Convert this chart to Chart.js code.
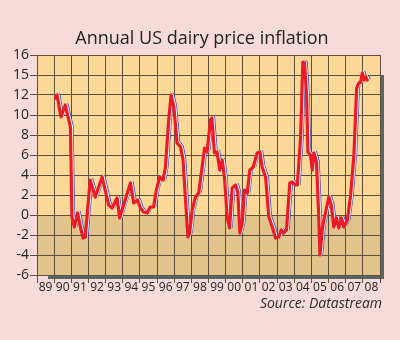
<!DOCTYPE html>
<html>
<head>
<meta charset="utf-8">
<script src="https://cdn.jsdelivr.net/npm/chart.js@4/dist/chart.umd.min.js"></script>
<style>
  html, body { margin: 0; padding: 0; background: #f7dbda; }
  #c { display: block; }
</style>
</head>
<body>
<canvas id="c" width="400" height="340"></canvas>
<script>
// Year labels shown under each yearly column
const yearLabels = ['89','90','91','92','93','94','95','96','97','98','99','00','01','02','03','04','05','06','07','08'];

// Value axis ticks and their printed labels
const yTickValues = [-6, -4, -2, 0, 2, 4, 6, 8, 10, 12, 14, 16];
const yTickLabels = ['-6', '-4', '-2', '0', '2', '4', '6', '8', '10', '12', '15', '16'];

// Observation dates (decimal years) and annual dairy price inflation, %
const dates = [
  1990.07, 1990.17, 1990.40, 1990.65, 1990.95, 1991.04, 1991.18, 1991.37, 1991.53, 1991.69,
  1991.82, 1992.10, 1992.40, 1992.80, 1993.18, 1993.38, 1993.67, 1993.82, 1994.45, 1994.64,
  1994.87, 1995.03, 1995.22, 1995.42, 1995.60, 1995.80, 1995.96, 1996.16, 1996.36, 1996.49,
  1996.68, 1996.82, 1996.98, 1997.17, 1997.37, 1997.52, 1997.66, 1997.80, 1997.90, 1998.05,
  1998.24, 1998.43, 1998.63, 1998.77, 1998.92, 1999.12, 1999.20, 1999.35, 1999.50, 1999.66,
  1999.80, 1999.93, 2000.09, 2000.23, 2000.38, 2000.58, 2000.71, 2000.83, 2000.97, 2001.10,
  2001.26, 2001.41, 2001.61, 2001.84, 2002.00, 2002.13, 2002.33, 2002.52, 2002.72, 2002.91,
  2003.10, 2003.24, 2003.39, 2003.55, 2003.74, 2003.88, 2004.08, 2004.18, 2004.37, 2004.50,
  2004.60, 2004.72, 2004.80, 2004.95, 2005.05, 2005.15, 2005.30, 2005.44, 2005.50, 2005.64,
  2005.83, 2006.02, 2006.16, 2006.31, 2006.47, 2006.60, 2006.75, 2006.90, 2007.10, 2007.29,
  2007.48, 2007.64, 2007.77, 2007.87, 2007.97, 2008.07, 2008.17, 2008.26
];
const inflation = [
  11.7, 12.0, 9.8, 11.0, 8.8, -0.2, -1.2, 0.2, -1.2, -2.3,
  -2.2, 3.5, 1.8, 3.8, 1.0, 0.7, 1.7, -0.3, 3.2, 1.2,
  1.5, 0.7, 0.3, 0.2, 0.8, 0.8, 2.5, 3.8, 3.5, 4.8,
  9.5, 12.0, 10.8, 7.2, 6.8, 5.5, 1.5, -2.2, -1.8, 0.5,
  1.8, 2.2, 4.8, 6.7, 6.3, 9.5, 9.7, 6.2, 6.3, 4.5,
  5.5, 3.8, -0.2, -1.3, 2.7, 3.0, 2.3, -1.8, -0.8, 2.5,
  2.2, 4.5, 4.8, 6.2, 6.3, 4.8, 3.8, -0.2, -1.2, -2.3,
  -2.2, -1.5, -1.8, -1.5, 3.2, 3.3, 3.0, 3.0, 7.7, 15.3,
  15.2, 12.0, 6.3, 6.0, 4.5, 6.2, 5.3, -0.7, -4.0, -1.3,
  0.3, 1.8, 1.0, -1.2, -0.3, -1.3, -0.3, -1.2, -0.5, 2.0,
  6.0, 12.7, 13.2, 13.3, 14.2, 13.5, 13.8, 13.5
];

const points = dates.map((d, i) => ({ x: d, y: inflation[i] }));

const FONT = '"Open Sans", "Noto Sans", sans-serif';
const GRID = '#5f4e3a';

// Page background, drop shadow, two-tone plot fill, title and source note
const backdrop = {
  id: 'backdrop',
  beforeDraw(chart) {
    const { ctx, chartArea: a, scales } = chart;
    ctx.save();
    ctx.fillStyle = '#f7dbda';
    ctx.fillRect(0, 0, chart.width, chart.height);
    ctx.fillStyle = '#58666a';
    ctx.fillRect(a.left + 11, a.top + 20, a.right - a.left + 4 - 11, a.bottom - a.top + 4 - 20);
    const zeroY = scales.y.getPixelForValue(0);
    ctx.fillStyle = '#fcd898';
    ctx.fillRect(a.left, a.top, a.right - a.left, zeroY - a.top);
    ctx.fillStyle = '#e2c38c';
    ctx.fillRect(a.left, zeroY, a.right - a.left, a.bottom - zeroY);
    ctx.restore();
  },
  afterDraw(chart) {
    const { ctx, chartArea: a } = chart;
    ctx.save();
    ctx.fillStyle = '#222';
    ctx.textBaseline = 'middle';
    ctx.textAlign = 'center';
    ctx.font = '18px ' + FONT;
    ctx.fillText('Annual US dairy price inflation', 202, 39);
    ctx.fillStyle = '#2a2a2a';
    ctx.font = 'italic 14px ' + FONT;
    ctx.textAlign = 'right';
    ctx.fillText('Source: Datastream', a.right + 2, 304);
    ctx.restore();
  }
};

// Offsets for the white and blue lines that sit behind the red line
const lineOffsets = { 1: [1.2, -0.5], 2: [2.4, -1.1] };
const offsetLines = {
  id: 'offsetLines',
  beforeDatasetDraw(chart, args) {
    const o = lineOffsets[args.index];
    chart.ctx.save();
    if (o) chart.ctx.translate(o[0], o[1]);
  },
  afterDatasetDraw(chart) {
    chart.ctx.restore();
  }
};

const lineBase = { data: points, pointRadius: 0, tension: 0, borderJoinStyle: 'round', borderCapStyle: 'round', fill: false };

new Chart(document.getElementById('c'), {
  type: 'line',
  data: {
    datasets: [
      { ...lineBase, borderColor: '#ee1b27', borderWidth: 3.2 },
      { ...lineBase, borderColor: '#ffffff', borderWidth: 2.6 },
      { ...lineBase, borderColor: '#3c4ba6', borderWidth: 1.6 }
    ]
  },
  options: {
    responsive: false,
    animation: false,
    layout: { padding: { left: 0, right: 20, top: 55, bottom: 0 } },
    plugins: {
      legend: { display: false },
      tooltip: { enabled: false },
      title: { display: false }
    },
    scales: {
      x: {
        type: 'linear',
        min: 1989,
        max: 2009,
        afterBuildTicks(scale) {
          const t = [];
          for (let y = 1989; y <= 2009; y++) {
            t.push({ value: y });
            if (y < 2009) t.push({ value: y + 0.5 });
          }
          scale.ticks = t;
        },
        afterFit(scale) { scale.height = 65; },
        ticks: {
          autoSkip: false,
          maxRotation: 0,
          minRotation: 0,
          padding: -3,
          color: '#222',
          font: { family: FONT, size: 12 },
          callback(v) {
            return Number.isInteger(v) ? '' : yearLabels[Math.floor(v) - 1989];
          }
        },
        grid: {
          color: (c) => (c.tick && Number.isInteger(c.tick.value)) ? GRID : 'rgba(0,0,0,0)',
          lineWidth: 1,
          tickLength: 8,
          drawTicks: true
        },
        border: { display: true, color: GRID }
      },
      y: {
        min: -6,
        max: 16,
        afterBuildTicks(scale) {
          scale.ticks = yTickValues.map(v => ({ value: v }));
        },
        afterFit(scale) { scale.width = 37; },
        ticks: {
          padding: 1,
          color: '#222',
          font: { family: FONT, size: 14 },
          callback(v) { return yTickLabels[yTickValues.indexOf(v)]; }
        },
        grid: { color: GRID, lineWidth: 1, tickLength: 7, drawTicks: true },
        border: { display: true, color: GRID }
      }
    }
  },
  plugins: [backdrop, offsetLines]
});
</script>
</body>
</html>
